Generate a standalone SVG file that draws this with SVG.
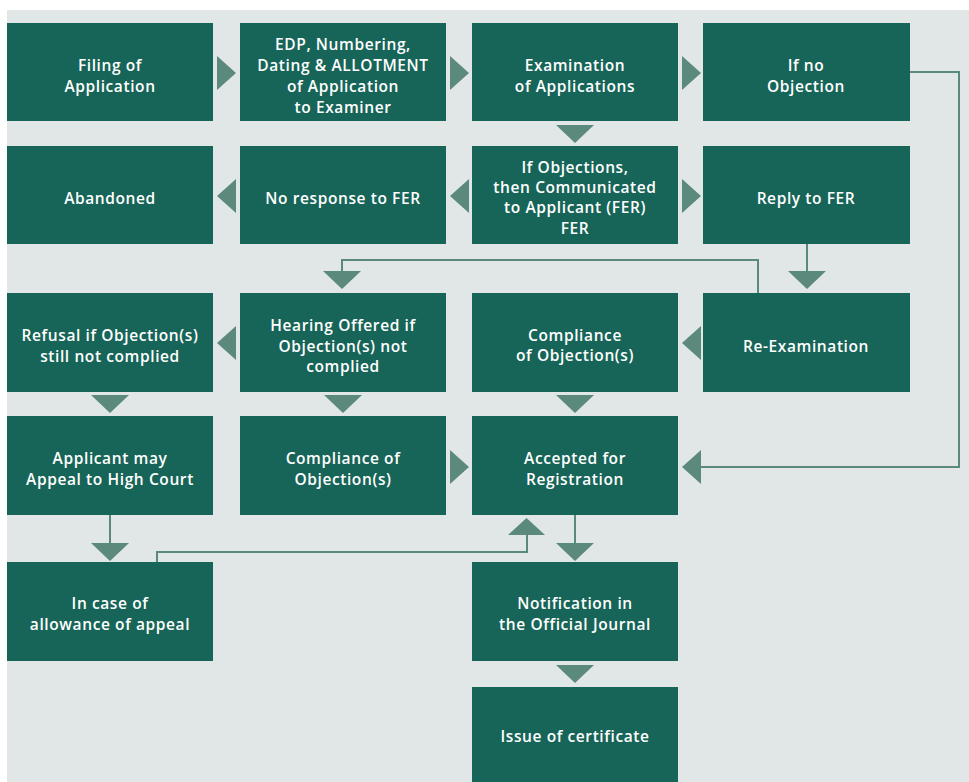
<svg xmlns="http://www.w3.org/2000/svg" width="969" height="782" viewBox="0 0 969 782">
<style>
.box{fill:#176558}
.t{fill:#ffffff;font-family:"Open Sans","Noto Sans","Liberation Sans",sans-serif;font-weight:600;font-size:15.5px;letter-spacing:0.6px;text-anchor:middle}
.ar{fill:#5b897b}
.ln{fill:none;stroke:#5b897b;stroke-width:2}
</style>
<rect x="0" y="0" width="969" height="782" fill="#ffffff"/>
<rect x="7" y="10" width="962" height="772" fill="#e1e7e7"/>
<g id="connectors">
<path class="ln" d="M910 72 H959 V467 H700"/>
<path class="ln" d="M807 244 V273"/>
<path class="ln" d="M758 293 V260 H342 V273"/>
<path class="ln" d="M110 515 V545"/>
<path class="ln" d="M157 562 V552 H527 V534"/>
<path class="ln" d="M575 515 V545"/>
<polygon class="ar" points="217,56 236,73 217,90"/>
<polygon class="ar" points="450,56 469,73 450,90"/>
<polygon class="ar" points="682,56 701,73 682,90"/>
<polygon class="ar" points="556,125 594,125 575,143"/>
<polygon class="ar" points="236,179 217,196 236,213"/>
<polygon class="ar" points="469,179 450,196 469,213"/>
<polygon class="ar" points="682,179 701,196 682,213"/>
<polygon class="ar" points="788,271 826,271 807,289"/>
<polygon class="ar" points="323,271 361,271 342,289"/>
<polygon class="ar" points="236,326 217,343 236,360"/>
<polygon class="ar" points="701,326 682,343 701,360"/>
<polygon class="ar" points="91,395 129,395 110,413"/>
<polygon class="ar" points="324,395 362,395 343,413"/>
<polygon class="ar" points="556,395 594,395 575,413"/>
<polygon class="ar" points="450,450 469,467 450,484"/>
<polygon class="ar" points="701,450 682,467 701,484"/>
<polygon class="ar" points="91,543 129,543 110,561"/>
<polygon class="ar" points="556,543 594,543 575,561"/>
<polygon class="ar" points="508,535 545,535 526.5,518"/>
<polygon class="ar" points="556,665 594,665 575,683"/>
</g>
<g id="n-filing"><rect class="box" x="7" y="23" width="206" height="98"/><text class="t" x="110" y="71">Filing of</text><text class="t" x="110" y="92">Application</text></g>
<g id="n-edp"><rect class="box" x="240" y="23" width="206" height="98"/><text class="t" x="343" y="50">EDP, Numbering,</text><text class="t" x="343" y="71">Dating &amp; ALLOTMENT</text><text class="t" x="343" y="92">of Application</text><text class="t" x="343" y="113">to Examiner</text></g>
<g id="n-exam"><rect class="box" x="472" y="23" width="206" height="98"/><text class="t" x="575" y="71">Examination</text><text class="t" x="575" y="92">of Applications</text></g>
<g id="n-noobj"><rect class="box" x="703" y="23" width="207" height="98"/><text class="t" x="806" y="71">If no</text><text class="t" x="806" y="92">Objection</text></g>
<g id="n-abandoned"><rect class="box" x="7" y="146" width="206" height="98"/><text class="t" x="110" y="204">Abandoned</text></g>
<g id="n-noresp"><rect class="box" x="240" y="146" width="206" height="98"/><text class="t" x="343" y="204">No response to FER</text></g>
<g id="n-ifobj"><rect class="box" x="472" y="146" width="206" height="98"/><text class="t" x="575" y="173">If Objections,</text><text class="t" x="575" y="193">then Communicated</text><text class="t" x="575" y="213">to Applicant (FER)</text><text class="t" x="575" y="234">FER</text></g>
<g id="n-reply"><rect class="box" x="703" y="146" width="207" height="98"/><text class="t" x="806" y="204">Reply to FER</text></g>
<g id="n-refusal"><rect class="box" x="7" y="293" width="206" height="99"/><text class="t" x="110" y="341">Refusal if Objection(s)</text><text class="t" x="110" y="362">still not complied</text></g>
<g id="n-hearing"><rect class="box" x="240" y="293" width="206" height="99"/><text class="t" x="343" y="331">Hearing Offered if</text><text class="t" x="343" y="352">Objection(s) not</text><text class="t" x="343" y="372">complied</text></g>
<g id="n-compl1"><rect class="box" x="472" y="293" width="206" height="99"/><text class="t" x="575" y="341">Compliance</text><text class="t" x="575" y="361">of Objection(s)</text></g>
<g id="n-reexam"><rect class="box" x="703" y="293" width="207" height="99"/><text class="t" x="806" y="352">Re-Examination</text></g>
<g id="n-appeal"><rect class="box" x="7" y="416" width="206" height="99"/><text class="t" x="110" y="464">Applicant may</text><text class="t" x="110" y="485">Appeal to High Court</text></g>
<g id="n-compl2"><rect class="box" x="240" y="416" width="206" height="99"/><text class="t" x="343" y="464">Compliance of</text><text class="t" x="343" y="485">Objection(s)</text></g>
<g id="n-accepted"><rect class="box" x="472" y="416" width="206" height="99"/><text class="t" x="575" y="464">Accepted for</text><text class="t" x="575" y="485">Registration</text></g>
<g id="n-allowance"><rect class="box" x="7" y="562" width="206" height="99"/><text class="t" x="110" y="609">In case of</text><text class="t" x="110" y="630">allowance of appeal</text></g>
<g id="n-notif"><rect class="box" x="472" y="562" width="206" height="99"/><text class="t" x="575" y="609">Notification in</text><text class="t" x="575" y="630">the Official Journal</text></g>
<g id="n-issue"><rect class="box" x="472" y="687" width="206" height="99"/><text class="t" x="575" y="742">Issue of certificate</text></g>
</svg>
